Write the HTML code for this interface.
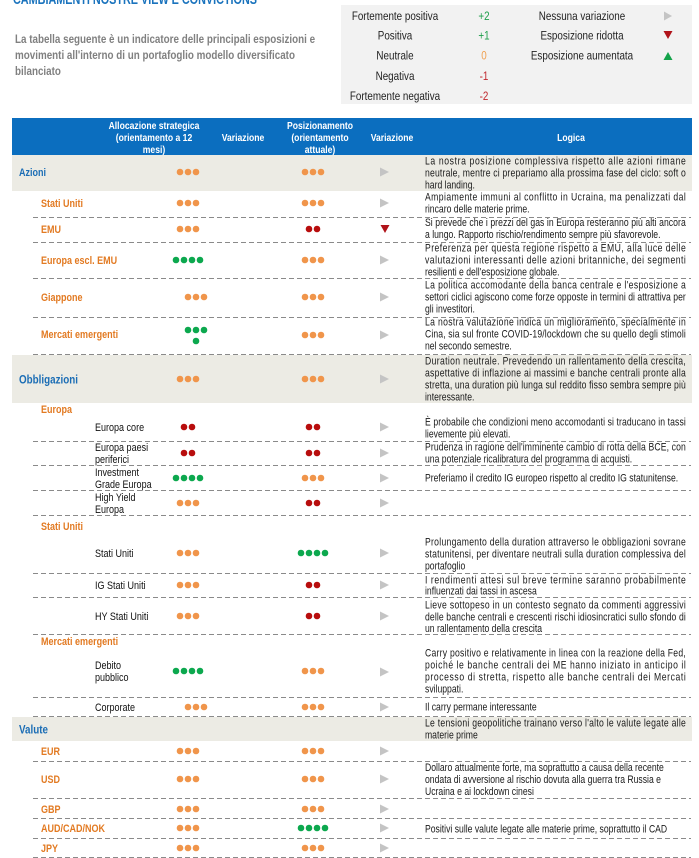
<!DOCTYPE html>
<html><head><meta charset="utf-8"><style>
html,body{margin:0;padding:0;background:#fff;}
svg{display:block;}
text{font-family:"Liberation Sans",Arial,sans-serif;}
.lg{font-size:10.8px;fill:#1a1a1a;}
.hd{font-size:10.5px;font-weight:bold;fill:#fff;}
.sec{font-size:11px;font-weight:bold;fill:#1b6db5;}
.or{font-size:11px;font-weight:bold;fill:#e27a22;}
.sub{font-size:11px;fill:#111;}
.leg{font-size:12px;fill:#222;}
</style></head><body>
<svg width="699" height="858" viewBox="0 0 699 858" xmlns="http://www.w3.org/2000/svg">
<rect width="699" height="858" fill="#fff"/>
<text x="13" y="4" font-size="15" font-weight="bold" fill="#1a73bd" textLength="244" lengthAdjust="spacingAndGlyphs">CAMBIAMENTI NOSTRE VIEW E CONVICTIONS</text>
<g font-size="12" font-weight="bold" fill="#808080">
<text transform="translate(15,43) scale(.82,1)">La tabella seguente è un indicatore delle principali esposizioni e</text>
<text transform="translate(15,59) scale(.82,1)">movimenti all'interno di un portafoglio modello diversificato</text>
<text transform="translate(15,75) scale(.82,1)">bilanciato</text>
</g>
<rect x="341" y="5" width="351" height="99" fill="#f2f2f2"/>
<g class="leg" text-anchor="middle">
<text class="leg" transform="translate(395,20) scale(.82,1)">Fortemente positiva</text>
<text class="leg" transform="translate(395,39.5) scale(.82,1)">Positiva</text>
<text class="leg" transform="translate(395,59.5) scale(.82,1)">Neutrale</text>
<text class="leg" transform="translate(395,80) scale(.82,1)">Negativa</text>
<text class="leg" transform="translate(395,100) scale(.82,1)">Fortemente negativa</text>
<text font-size="12" fill="#1e9e4a" transform="translate(484,20) scale(.82,1)">+2</text>
<text font-size="12" fill="#1e9e4a" transform="translate(484,39.5) scale(.82,1)">+1</text>
<text font-size="12" fill="#f0a050" transform="translate(484,59.5) scale(.82,1)">0</text>
<text font-size="12" fill="#c0272d" transform="translate(484,80) scale(.82,1)">-1</text>
<text font-size="12" fill="#c0272d" transform="translate(484,100) scale(.82,1)">-2</text>
<text class="leg" transform="translate(582,20) scale(.82,1)">Nessuna variazione</text>
<text class="leg" transform="translate(582,39.5) scale(.82,1)">Esposizione ridotta</text>
<text class="leg" transform="translate(582,59.5) scale(.82,1)">Esposizione aumentata</text>
</g>
<polygon points="664,11.5 672,16 664,20.5" fill="#c4c4c4"/>
<polygon points="663.5,31 672.5,31 668,39" fill="#b0131a"/>
<polygon points="663.5,60 672.5,60 668,52" fill="#14a34a"/>

<rect x="12" y="118" width="680" height="37" fill="#0b6ebf"/>
<g class="hd" text-anchor="middle">
<text class="hd" transform="translate(154,129) scale(.82,1)">Allocazione strategica</text>
<text class="hd" transform="translate(154,141) scale(.82,1)">(orientamento a 12</text>
<text class="hd" transform="translate(154,153) scale(.82,1)">mesi)</text>
<text class="hd" transform="translate(243,141) scale(.82,1)">Variazione</text>
<text class="hd" transform="translate(320,129) scale(.82,1)">Posizionamento</text>
<text class="hd" transform="translate(320,141) scale(.82,1)">(orientamento</text>
<text class="hd" transform="translate(320,153) scale(.82,1)">attuale)</text>
<text class="hd" transform="translate(392,141) scale(.82,1)">Variazione</text>
<text class="hd" transform="translate(571,141) scale(.82,1)">Logica</text>
</g>

<rect x="12" y="155" width="680" height="36" fill="#ecebe4"/>
<rect x="12" y="355" width="680" height="48" fill="#ecebe4"/>
<rect x="12" y="717" width="680" height="24" fill="#ecebe4"/>

<path d="M33 217.5H691M33 242.5H691M33 278.5H691M33 317.5H691M33 354.5H691M33 441.5H691M33 465.5H691M33 490.5H691M33 515.5H691M33 573.5H691M33 597.5H691M33 634.5H691M33 697.5H691M33 716.5H691M33 761.5H691M33 798.5H691M33 818.5H691M33 838.5H691M33 857.5H691" stroke="#8a8a8a" stroke-width="1" stroke-dasharray="5 3" fill="none"/>

<text class="sec" transform="translate(19,176) scale(.82,1)">Azioni</text>
<text class="or" transform="translate(41,207) scale(.82,1)">Stati Uniti</text>
<text class="or" transform="translate(41,233) scale(.82,1)">EMU</text>
<text class="or" transform="translate(41,264) scale(.82,1)">Europa escl. EMU</text>
<text class="or" transform="translate(41,301) scale(.82,1)">Giappone</text>
<text class="or" transform="translate(41,338) scale(.82,1)">Mercati emergenti</text>
<text class="sec" style="font-size:12px" transform="translate(19,383.5) scale(.82,1)">Obbligazioni</text>
<text class="or" transform="translate(41,413) scale(.82,1)">Europa</text>
<text class="sub" transform="translate(95,431) scale(.82,1)">Europa core</text>
<text class="sub" transform="translate(95,451) scale(.82,1)">Europa paesi</text>
<text class="sub" transform="translate(95,463) scale(.82,1)">periferici</text>
<text class="sub" transform="translate(95,476) scale(.82,1)">Investment</text>
<text class="sub" transform="translate(95,488) scale(.82,1)">Grade Europa</text>
<text class="sub" transform="translate(95,501) scale(.82,1)">High Yield</text>
<text class="sub" transform="translate(95,513) scale(.82,1)">Europa</text>
<text class="or" transform="translate(41,530) scale(.82,1)">Stati Uniti</text>
<text class="sub" transform="translate(95,557) scale(.82,1)">Stati Uniti</text>
<text class="sub" transform="translate(95,589) scale(.82,1)">IG Stati Uniti</text>
<text class="sub" transform="translate(95,620) scale(.82,1)">HY Stati Uniti</text>
<text class="or" transform="translate(41,645) scale(.82,1)">Mercati emergenti</text>
<text class="sub" transform="translate(95,669) scale(.82,1)">Debito</text>
<text class="sub" transform="translate(95,681) scale(.82,1)">pubblico</text>
<text class="sub" transform="translate(95,711) scale(.82,1)">Corporate</text>
<text class="sec" style="font-size:12px" transform="translate(19,733.5) scale(.82,1)">Valute</text>
<text class="or" transform="translate(41,755) scale(.82,1)">EUR</text>
<text class="or" transform="translate(41,783) scale(.82,1)">USD</text>
<text class="or" transform="translate(41,813) scale(.82,1)">GBP</text>
<text class="or" transform="translate(41,832) scale(.82,1)">AUD/CAD/NOK</text>
<text class="or" transform="translate(41,852) scale(.82,1)">JPY</text>

<g fill="#f0954b">
<circle cx="180" cy="172" r="3.3"/><circle cx="188" cy="172" r="3.3"/><circle cx="196" cy="172" r="3.3"/>
<circle cx="305" cy="172" r="3.3"/><circle cx="313" cy="172" r="3.3"/><circle cx="321" cy="172" r="3.3"/>
<circle cx="180" cy="203" r="3.3"/><circle cx="188" cy="203" r="3.3"/><circle cx="196" cy="203" r="3.3"/>
<circle cx="305" cy="203" r="3.3"/><circle cx="313" cy="203" r="3.3"/><circle cx="321" cy="203" r="3.3"/>
<circle cx="180" cy="229" r="3.3"/><circle cx="188" cy="229" r="3.3"/><circle cx="196" cy="229" r="3.3"/>
<circle cx="305" cy="260" r="3.3"/><circle cx="313" cy="260" r="3.3"/><circle cx="321" cy="260" r="3.3"/>
<circle cx="188" cy="297" r="3.3"/><circle cx="196" cy="297" r="3.3"/><circle cx="204" cy="297" r="3.3"/>
<circle cx="305" cy="297" r="3.3"/><circle cx="313" cy="297" r="3.3"/><circle cx="321" cy="297" r="3.3"/>
<circle cx="305" cy="335" r="3.3"/><circle cx="313" cy="335" r="3.3"/><circle cx="321" cy="335" r="3.3"/>
<circle cx="180" cy="379" r="3.3"/><circle cx="188" cy="379" r="3.3"/><circle cx="196" cy="379" r="3.3"/>
<circle cx="305" cy="379" r="3.3"/><circle cx="313" cy="379" r="3.3"/><circle cx="321" cy="379" r="3.3"/>
<circle cx="305" cy="478" r="3.3"/><circle cx="313" cy="478" r="3.3"/><circle cx="321" cy="478" r="3.3"/>
<circle cx="180" cy="503" r="3.3"/><circle cx="188" cy="503" r="3.3"/><circle cx="196" cy="503" r="3.3"/>
<circle cx="180" cy="553" r="3.3"/><circle cx="188" cy="553" r="3.3"/><circle cx="196" cy="553" r="3.3"/>
<circle cx="180" cy="585" r="3.3"/><circle cx="188" cy="585" r="3.3"/><circle cx="196" cy="585" r="3.3"/>
<circle cx="180" cy="616" r="3.3"/><circle cx="188" cy="616" r="3.3"/><circle cx="196" cy="616" r="3.3"/>
<circle cx="305" cy="671" r="3.3"/><circle cx="313" cy="671" r="3.3"/><circle cx="321" cy="671" r="3.3"/>
<circle cx="188" cy="707" r="3.3"/><circle cx="196" cy="707" r="3.3"/><circle cx="204" cy="707" r="3.3"/>
<circle cx="305" cy="707" r="3.3"/><circle cx="313" cy="707" r="3.3"/><circle cx="321" cy="707" r="3.3"/>
<circle cx="180" cy="751" r="3.3"/><circle cx="188" cy="751" r="3.3"/><circle cx="196" cy="751" r="3.3"/>
<circle cx="305" cy="751" r="3.3"/><circle cx="313" cy="751" r="3.3"/><circle cx="321" cy="751" r="3.3"/>
<circle cx="180" cy="779" r="3.3"/><circle cx="188" cy="779" r="3.3"/><circle cx="196" cy="779" r="3.3"/>
<circle cx="305" cy="779" r="3.3"/><circle cx="313" cy="779" r="3.3"/><circle cx="321" cy="779" r="3.3"/>
<circle cx="180" cy="809" r="3.3"/><circle cx="188" cy="809" r="3.3"/><circle cx="196" cy="809" r="3.3"/>
<circle cx="305" cy="809" r="3.3"/><circle cx="313" cy="809" r="3.3"/><circle cx="321" cy="809" r="3.3"/>
<circle cx="180" cy="828" r="3.3"/><circle cx="188" cy="828" r="3.3"/><circle cx="196" cy="828" r="3.3"/>
<circle cx="180" cy="848" r="3.3"/><circle cx="188" cy="848" r="3.3"/><circle cx="196" cy="848" r="3.3"/>
<circle cx="305" cy="848" r="3.3"/><circle cx="313" cy="848" r="3.3"/><circle cx="321" cy="848" r="3.3"/>
</g>
<g fill="#b80d0d">
<circle cx="309" cy="229" r="3.3"/><circle cx="317" cy="229" r="3.3"/>
<circle cx="184" cy="427" r="3.3"/><circle cx="192" cy="427" r="3.3"/>
<circle cx="309" cy="427" r="3.3"/><circle cx="317" cy="427" r="3.3"/>
<circle cx="184" cy="453" r="3.3"/><circle cx="192" cy="453" r="3.3"/>
<circle cx="309" cy="453" r="3.3"/><circle cx="317" cy="453" r="3.3"/>
<circle cx="309" cy="503" r="3.3"/><circle cx="317" cy="503" r="3.3"/>
<circle cx="309" cy="585" r="3.3"/><circle cx="317" cy="585" r="3.3"/>
<circle cx="309" cy="616" r="3.3"/><circle cx="317" cy="616" r="3.3"/>
</g>
<g fill="#0ca84e">
<circle cx="176" cy="260" r="3.3"/><circle cx="184" cy="260" r="3.3"/><circle cx="192" cy="260" r="3.3"/><circle cx="200" cy="260" r="3.3"/>
<circle cx="188" cy="330" r="3.3"/><circle cx="196" cy="330" r="3.3"/><circle cx="204" cy="330" r="3.3"/>
<circle cx="196" cy="341" r="3.3"/>
<circle cx="176" cy="478" r="3.3"/><circle cx="184" cy="478" r="3.3"/><circle cx="192" cy="478" r="3.3"/><circle cx="200" cy="478" r="3.3"/>
<circle cx="301" cy="553" r="3.3"/><circle cx="309" cy="553" r="3.3"/><circle cx="317" cy="553" r="3.3"/><circle cx="325" cy="553" r="3.3"/>
<circle cx="176" cy="671" r="3.3"/><circle cx="184" cy="671" r="3.3"/><circle cx="192" cy="671" r="3.3"/><circle cx="200" cy="671" r="3.3"/>
<circle cx="301" cy="828" r="3.3"/><circle cx="309" cy="828" r="3.3"/><circle cx="317" cy="828" r="3.3"/><circle cx="325" cy="828" r="3.3"/>
</g>

<g fill="#c4c4c4">
<polygon points="380,167.5 389,172 380,176.5"/>
<polygon points="380,198.5 389,203 380,207.5"/>
<polygon points="380,255.5 389,260 380,264.5"/>
<polygon points="380,292.5 389,297 380,301.5"/>
<polygon points="380,330.5 389,335 380,339.5"/>
<polygon points="380,374.5 389,379 380,383.5"/>
<polygon points="380,422.5 389,427 380,431.5"/>
<polygon points="380,448.5 389,453 380,457.5"/>
<polygon points="380,473.5 389,478 380,482.5"/>
<polygon points="380,498.5 389,503 380,507.5"/>
<polygon points="380,548.5 389,553 380,557.5"/>
<polygon points="380,580.5 389,585 380,589.5"/>
<polygon points="380,611.5 389,616 380,620.5"/>
<polygon points="380,667.5 389,672 380,676.5"/>
<polygon points="380,702.5 389,707 380,711.5"/>
<polygon points="380,746.5 389,751 380,755.5"/>
<polygon points="380,774.5 389,779 380,783.5"/>
<polygon points="380,804.5 389,809 380,813.5"/>
<polygon points="380,823.5 389,828 380,832.5"/>
<polygon points="380,843.5 389,848 380,852.5"/>
</g>
<polygon points="380.5,225 389.5,225 385,233" fill="#b0131a"/>

<g class="lg">
<text class="lg" transform="translate(425,164.5) scale(.8,1)" textLength="326" lengthAdjust="spacing">La nostra posizione complessiva rispetto alle azioni rimane</text>
<text class="lg" transform="translate(425,176.5) scale(.8,1)" textLength="326" lengthAdjust="spacing">neutrale, mentre ci prepariamo alla prossima fase del ciclo: soft o</text>
<text class="lg" transform="translate(425,188.5) scale(.8,1)">hard landing.</text>

<text class="lg" transform="translate(425,200.5) scale(.8,1)" textLength="326" lengthAdjust="spacing">Ampiamente immuni al conflitto in Ucraina, ma penalizzati dal</text>
<text class="lg" transform="translate(425,212.5) scale(.8,1)">rincaro delle materie prime.</text>

<text class="lg" transform="translate(425,226) scale(.8,1)" textLength="326" lengthAdjust="spacing">Si prevede che i prezzi del gas in Europa resteranno più alti ancora</text>
<text class="lg" transform="translate(425,238) scale(.8,1)">a lungo. Rapporto rischio/rendimento sempre più sfavorevole.</text>

<text class="lg" transform="translate(425,251.5) scale(.8,1)" textLength="326" lengthAdjust="spacing">Preferenza per questa regione rispetto a EMU, alla luce delle</text>
<text class="lg" transform="translate(425,263.5) scale(.8,1)" textLength="326" lengthAdjust="spacing">valutazioni interessanti delle azioni britanniche, dei segmenti</text>
<text class="lg" transform="translate(425,275.5) scale(.8,1)">resilienti e dell'esposizione globale.</text>

<text class="lg" transform="translate(425,288.5) scale(.8,1)" textLength="326" lengthAdjust="spacing">La politica accomodante della banca centrale e l'esposizione a</text>
<text class="lg" transform="translate(425,300.5) scale(.8,1)" textLength="326" lengthAdjust="spacing">settori ciclici agiscono come forze opposte in termini di attrattiva per</text>
<text class="lg" transform="translate(425,312.5) scale(.8,1)">gli investitori.</text>

<text class="lg" transform="translate(425,325.5) scale(.8,1)" textLength="326" lengthAdjust="spacing">La nostra valutazione indica un miglioramento, specialmente in</text>
<text class="lg" transform="translate(425,337.5) scale(.8,1)" textLength="326" lengthAdjust="spacing">Cina, sia sul fronte COVID-19/lockdown che su quello degli stimoli</text>
<text class="lg" transform="translate(425,349.5) scale(.8,1)">nel secondo semestre.</text>

<text class="lg" transform="translate(425,364.5) scale(.8,1)" textLength="326" lengthAdjust="spacing">Duration neutrale. Prevedendo un rallentamento della crescita,</text>
<text class="lg" transform="translate(425,376.5) scale(.8,1)" textLength="326" lengthAdjust="spacing">aspettative di inflazione ai massimi e banche centrali pronte alla</text>
<text class="lg" transform="translate(425,388.5) scale(.8,1)" textLength="326" lengthAdjust="spacing">stretta, una duration più lunga sul reddito fisso sembra sempre più</text>
<text class="lg" transform="translate(425,400.5) scale(.8,1)">interessante.</text>

<text class="lg" transform="translate(425,425.5) scale(.8,1)" textLength="326" lengthAdjust="spacing">È probabile che condizioni meno accomodanti si traducano in tassi</text>
<text class="lg" transform="translate(425,437.5) scale(.8,1)">lievemente più elevati.</text>

<text class="lg" transform="translate(425,450.5) scale(.8,1)" textLength="326" lengthAdjust="spacing">Prudenza in ragione dell'imminente cambio di rotta della BCE, con</text>
<text class="lg" transform="translate(425,462.5) scale(.8,1)">una potenziale ricalibratura del programma di acquisti.</text>

<text class="lg" transform="translate(425,481.5) scale(.8,1)">Preferiamo il credito IG europeo rispetto al credito IG statunitense.</text>

<text class="lg" transform="translate(425,545.5) scale(.8,1)" textLength="326" lengthAdjust="spacing">Prolungamento della duration attraverso le obbligazioni sovrane</text>
<text class="lg" transform="translate(425,557.5) scale(.8,1)" textLength="326" lengthAdjust="spacing">statunitensi, per diventare neutrali sulla duration complessiva del</text>
<text class="lg" transform="translate(425,569.5) scale(.8,1)">portafoglio</text>

<text class="lg" transform="translate(425,583.5) scale(.8,1)" textLength="326" lengthAdjust="spacing">I rendimenti attesi sul breve termine saranno probabilmente</text>
<text class="lg" transform="translate(425,594.5) scale(.8,1)">influenzati dai tassi in ascesa</text>

<text class="lg" transform="translate(425,608.5) scale(.8,1)" textLength="326" lengthAdjust="spacing">Lieve sottopeso in un contesto segnato da commenti aggressivi</text>
<text class="lg" transform="translate(425,620.5) scale(.8,1)" textLength="326" lengthAdjust="spacing">delle banche centrali e crescenti rischi idiosincratici sullo sfondo di</text>
<text class="lg" transform="translate(425,632) scale(.8,1)">un rallentamento della crescita</text>

<text class="lg" transform="translate(425,656.5) scale(.8,1)" textLength="326" lengthAdjust="spacing">Carry positivo e relativamente in linea con la reazione della Fed,</text>
<text class="lg" transform="translate(425,668.5) scale(.8,1)" textLength="326" lengthAdjust="spacing">poiché le banche centrali dei ME hanno iniziato in anticipo il</text>
<text class="lg" transform="translate(425,680.5) scale(.8,1)" textLength="326" lengthAdjust="spacing">processo di stretta, rispetto alle banche centrali dei Mercati</text>
<text class="lg" transform="translate(425,692.5) scale(.8,1)">sviluppati.</text>

<text class="lg" transform="translate(425,710.5) scale(.8,1)">Il carry permane interessante</text>

<text class="lg" transform="translate(425,726.5) scale(.8,1)" textLength="326" lengthAdjust="spacing">Le tensioni geopolitiche trainano verso l'alto le valute legate alle</text>
<text class="lg" transform="translate(425,738.5) scale(.8,1)">materie prime</text>

<text class="lg" transform="translate(425,771) scale(.8,1)">Dollaro attualmente forte, ma soprattutto a causa della recente</text>
<text class="lg" transform="translate(425,783) scale(.8,1)">ondata di avversione al rischio dovuta alla guerra tra Russia e</text>
<text class="lg" transform="translate(425,795) scale(.8,1)">Ucraina e ai lockdown cinesi</text>

<text class="lg" transform="translate(425,832.5) scale(.8,1)">Positivi sulle valute legate alle materie prime, soprattutto il CAD</text>
</g>
</svg>
</body></html>
